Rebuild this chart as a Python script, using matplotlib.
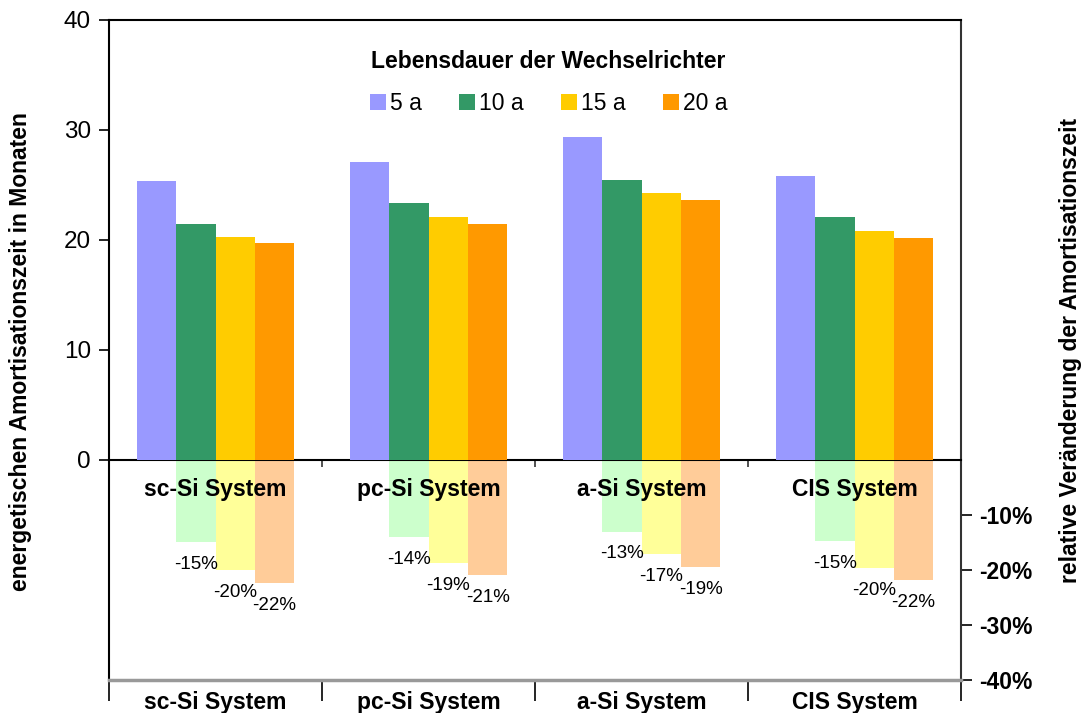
import numpy as np
import matplotlib
matplotlib.use("Agg")
import matplotlib.pyplot as plt
from matplotlib.font_manager import FontProperties

plt.rcParams['font.family'] = ['Liberation Sans', 'DejaVu Sans']

# Data
systems = ["sc-Si System", "pc-Si System", "a-Si System", "CIS System"]
lifetimes = ["5 a", "10 a", "15 a", "20 a"]

# energetische Amortisationszeit in Monaten, per Lebensdauer
months_5a = [25.4, 27.1, 29.4, 25.8]
months_10a = [21.5, 23.4, 25.5, 22.1]
months_15a = [20.3, 22.1, 24.3, 20.8]
months_20a = [19.7, 21.5, 23.6, 20.2]

# relative Veränderung gegenüber 5 a (in %)
change_10a = [-14.9, -14.0, -13.0, -14.7]
change_15a = [-20.0, -18.7, -17.1, -19.6]
change_20a = [-22.4, -20.9, -19.4, -21.8]

colors = ["#9999FF", "#339966", "#FFCC00", "#FF9900"]
light_colors = ["#CCFFCC", "#FFFF99", "#FFCC99"]

FS = 16.5

fig = plt.figure(figsize=(10.85, 7.13), dpi=100)
ax = fig.add_axes([109 / 1085, 1 - 680 / 713, 852 / 1085, 660 / 713])
ax2 = ax.twinx()

x = np.arange(len(systems))
w = 0.185
offsets = (np.arange(4) - 1.5) * w

# main bars
for vals, off, col, lab in zip([months_5a, months_10a, months_15a, months_20a],
                               offsets, colors, lifetimes):
    ax.bar(x + off, vals, width=w, color=col, label=lab, linewidth=0)

# relative change bars (secondary axis)
for vals, off, col in zip([change_10a, change_15a, change_20a], offsets[1:], light_colors):
    ax2.bar(x + off, vals, width=w, color=col, linewidth=0)
    for xi, v in zip(x + off, vals):
        ax2.annotate(f"{round(v)}%", (xi, v), xytext=(0, -10),
                     textcoords="offset points", ha="center", va="top", fontsize=13.5)

ax.set_xlim(-0.5, len(systems) - 0.5)
ax.set_ylim(-20, 40)
ax2.set_ylim(-40, 80)

# primary axis on top so that the zero line and labels sit above the light bars
ax.set_zorder(ax2.get_zorder() + 1)
ax.patch.set_visible(False)

# left axis
ax.set_yticks([0, 10, 20, 30, 40])
ax.tick_params(axis="y", direction="out", length=7, width=1.2, pad=6, labelsize=17.5)

# bottom category axis: boundary ticks, labels in between
ax.set_xticks(np.arange(-0.5, len(systems)))
ax.set_xticklabels([])
ax.set_xticks(x, minor=True)
ax.set_xticklabels(systems, minor=True, fontsize=FS, fontweight="bold")
ax.tick_params(axis="x", which="major", direction="out", length=15, width=1.2, color="black")
ax.tick_params(axis="x", which="minor", length=0, pad=8)

# zero line axis
sec = ax.secondary_xaxis(1 / 3)
sec.set_xticks(np.arange(-0.5, len(systems)))
sec.set_xticklabels([])
sec.tick_params(direction="out", length=5, width=1.2, color="#333333")
sec.spines["bottom"].set_linewidth(1.5)
sec.spines["bottom"].set_color("black")

for xi, name in zip(x, systems):
    ax.annotate(name, (xi, 0), xytext=(0, -21), textcoords="offset points",
                ha="center", va="center", fontsize=FS, fontweight="bold")

# spines
ax.spines["left"].set_linewidth(1.5)
ax.spines["top"].set_linewidth(1.5)
ax.spines["right"].set_visible(False)
ax.spines["bottom"].set_color("#999999")
ax.spines["bottom"].set_linewidth(2.5)
for s in ["left", "top", "bottom"]:
    ax2.spines[s].set_visible(False)
ax2.spines["right"].set_color("#333333")
ax2.spines["right"].set_linewidth(1.5)

# right axis
ax2.set_yticks([-10, -20, -30, -40])
ax2.set_yticklabels(["-10%", "-20%", "-30%", "-40%"], fontsize=FS, fontweight="bold")
ax2.tick_params(axis="y", direction="out", length=8, width=1.2, pad=5)

# axis titles
fig.text(21 / 1085, 1 - 352 / 713, "energetischen Amortisationszeit in Monaten",
         rotation=90, ha="center", va="center", fontsize=FS, fontweight="bold")
fig.text(1071 / 1085, 1 - 350 / 713, "relative Veränderung der Amortisationszeit",
         rotation=90, ha="center", va="center", fontsize=FS, fontweight="bold")

# legend
ax.legend(loc="upper center", bbox_to_anchor=(0.516, 0.986), ncol=4, frameon=False,
          title="Lebensdauer der Wechselrichter",
          title_fontproperties=FontProperties(family=['Liberation Sans'], weight="bold", size=FS),
          fontsize=FS, handlelength=0.7, handleheight=0.7, handletextpad=0.2,
          columnspacing=1.6, labelspacing=0.85)

fig.savefig("out.png", dpi=100)
